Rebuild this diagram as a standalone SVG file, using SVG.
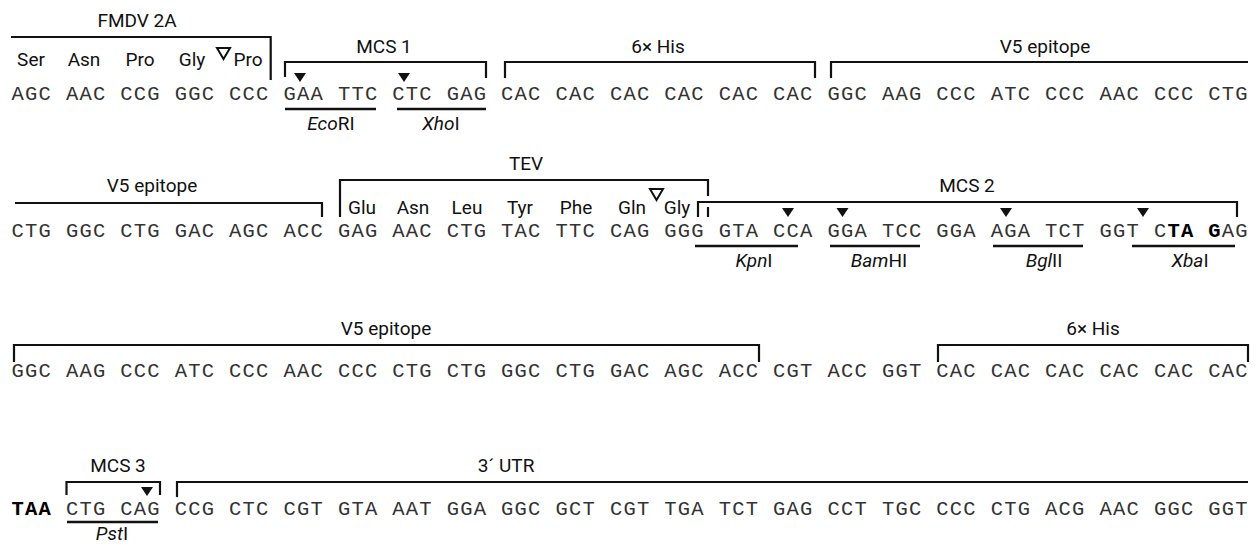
<svg xmlns="http://www.w3.org/2000/svg" width="1258" height="546" viewBox="0 0 1258 546">
  <style>
    .seq { font-family: "Liberation Mono", "DejaVu Sans Mono", monospace; font-size: 20.5px; letter-spacing: 1.2px; fill: #333; }
    .b { font-weight: bold; fill: #000; }
    .lab { font-family: Roboto, "Liberation Sans", sans-serif; font-size: 19px; fill: #111; text-anchor: middle; }
    .it { font-style: italic; }
    .br { fill: none; stroke: #111; stroke-width: 2.2; }
    .ul { fill: none; stroke: #111; stroke-width: 2.5; }
    .cut { fill: #111; }
    .cleave { fill: #fff; stroke: #111; stroke-width: 2; stroke-linejoin: miter; }
  </style>
  <defs>
    <path id="cutMark" class="cut" d="M-6,0 H6 L0,9 Z"/>
  </defs>
  <rect width="1258" height="546" fill="#fff"/>

  <!-- Row 1 -->
  <g id="fmdv2a">
    <path class="br" d="M11,37 H270.7 V80"/>
    <text class="lab" x="137" y="27">FMDV 2A</text>
    <text class="lab" x="31" y="66">Ser</text>
    <text class="lab" x="84" y="66">Asn</text>
    <text class="lab" x="140" y="66">Pro</text>
    <text class="lab" x="192" y="66">Gly</text>
    <text class="lab" x="248" y="66">Pro</text>
    <path class="cleave" d="M217,48 H230 L223.5,59 Z"/>
  </g>
  <g id="mcs1">
    <path class="br" d="M285,77 V62 H486 V78"/>
    <text class="lab" x="384" y="53">MCS 1</text>
  </g>
  <g id="his6-a">
    <path class="br" d="M505,78 V62 H815 V78"/>
    <text class="lab" x="658" y="53">6× His</text>
  </g>
  <g id="v5-a">
    <path class="br" d="M831,78 V62 H1248"/>
    <text class="lab" x="1045" y="53">V5 epitope</text>
  </g>
  <g id="ecori">
    <use href="#cutMark" x="300" y="73"/>
    <path class="ul" d="M285,109 H376"/>
    <text class="lab" x="331" y="130"><tspan class="it">Eco</tspan>RI</text>
  </g>
  <g id="xhoi">
    <use href="#cutMark" x="404" y="73"/>
    <path class="ul" d="M397,109 H486"/>
    <text class="lab" x="441" y="130"><tspan class="it">Xho</tspan>I</text>
  </g>
  <g id="seq-row1">
    <text class="seq" y="100"><tspan x="11.5">AGC</tspan><tspan x="65.9">AAC</tspan><tspan x="120.3">CCG</tspan><tspan x="174.7">GGC</tspan><tspan x="229.1">CCC</tspan><tspan x="283.5">GAA</tspan><tspan x="337.9">TTC</tspan><tspan x="392.3">CTC</tspan><tspan x="446.7">GAG</tspan><tspan x="501.1">CAC</tspan><tspan x="555.5">CAC</tspan><tspan x="609.9">CAC</tspan><tspan x="664.3">CAC</tspan><tspan x="718.7">CAC</tspan><tspan x="773.1">CAC</tspan><tspan x="827.5">GGC</tspan><tspan x="881.9">AAG</tspan><tspan x="936.3">CCC</tspan><tspan x="990.7">ATC</tspan><tspan x="1045.1">CCC</tspan><tspan x="1099.5">AAC</tspan><tspan x="1153.9">CCC</tspan><tspan x="1208.3">CTG</tspan></text>
  </g>

  <!-- Row 2 -->
  <g id="v5-b">
    <path class="br" d="M15,203 H322 V217"/>
    <text class="lab" x="152" y="192">V5 epitope</text>
  </g>
  <g id="tev">
    <path class="br" d="M340,217 V180 H708 V196 M708,207 V217"/>
    <text class="lab" x="526" y="170">TEV</text>
    <text class="lab" x="362" y="214">Glu</text>
    <text class="lab" x="413" y="214">Asn</text>
    <text class="lab" x="467" y="214">Leu</text>
    <text class="lab" x="520" y="214">Tyr</text>
    <text class="lab" x="576" y="214">Phe</text>
    <text class="lab" x="632" y="214">Gln</text>
    <text class="lab" x="677" y="214">Gly</text>
    <path class="cleave" d="M650,189 H663 L656.5,200 Z"/>
  </g>
  <g id="mcs2">
    <path class="br" d="M698,217 V202 H1237 V217"/>
    <text class="lab" x="967" y="192">MCS 2</text>
  </g>
  <g id="kpni">
    <use href="#cutMark" x="788" y="208"/>
    <path class="ul" d="M695,246 H798"/>
    <text class="lab" x="754" y="267"><tspan class="it">Kpn</tspan>I</text>
  </g>
  <g id="bamhi">
    <use href="#cutMark" x="842.5" y="208"/>
    <path class="ul" d="M830,246 H920"/>
    <text class="lab" x="879" y="267"><tspan class="it">Bam</tspan>HI</text>
  </g>
  <g id="bglii">
    <use href="#cutMark" x="1006" y="208"/>
    <path class="ul" d="M993,246 H1083"/>
    <text class="lab" x="1044" y="267"><tspan class="it">Bgl</tspan>II</text>
  </g>
  <g id="xbai">
    <use href="#cutMark" x="1143" y="208"/>
    <path class="ul" d="M1132,246 H1235"/>
    <text class="lab" x="1190" y="267"><tspan class="it">Xba</tspan>I</text>
  </g>
  <g id="seq-row2">
    <text class="seq" y="237"><tspan x="11.5">CTG</tspan><tspan x="65.9">GGC</tspan><tspan x="120.3">CTG</tspan><tspan x="174.7">GAC</tspan><tspan x="229.1">AGC</tspan><tspan x="283.5">ACC</tspan><tspan x="337.9">GAG</tspan><tspan x="392.3">AAC</tspan><tspan x="446.7">CTG</tspan><tspan x="501.1">TAC</tspan><tspan x="555.5">TTC</tspan><tspan x="609.9">CAG</tspan><tspan x="664.3">GGG</tspan><tspan x="718.7">GTA</tspan><tspan x="773.1">CCA</tspan><tspan x="827.5">GGA</tspan><tspan x="881.9">TCC</tspan><tspan x="936.3">GGA</tspan><tspan x="990.7">AGA</tspan><tspan x="1045.1">TCT</tspan><tspan x="1099.5">GGT</tspan><tspan x="1153.9">C<tspan class="b">TA</tspan></tspan><tspan x="1208.3"><tspan class="b">G</tspan>AG</tspan></text>
  </g>

  <!-- Row 3 -->
  <g id="v5-c">
    <path class="br" d="M14,362 V345 H759 V362"/>
    <text class="lab" x="386" y="335">V5 epitope</text>
  </g>
  <g id="his6-b">
    <path class="br" d="M938,362 V345 H1248 V362"/>
    <text class="lab" x="1093" y="335">6× His</text>
  </g>
  <g id="seq-row3">
    <text class="seq" y="377"><tspan x="11.5">GGC</tspan><tspan x="65.9">AAG</tspan><tspan x="120.3">CCC</tspan><tspan x="174.7">ATC</tspan><tspan x="229.1">CCC</tspan><tspan x="283.5">AAC</tspan><tspan x="337.9">CCC</tspan><tspan x="392.3">CTG</tspan><tspan x="446.7">CTG</tspan><tspan x="501.1">GGC</tspan><tspan x="555.5">CTG</tspan><tspan x="609.9">GAC</tspan><tspan x="664.3">AGC</tspan><tspan x="718.7">ACC</tspan><tspan x="773.1">CGT</tspan><tspan x="827.5">ACC</tspan><tspan x="881.9">GGT</tspan><tspan x="936.3">CAC</tspan><tspan x="990.7">CAC</tspan><tspan x="1045.1">CAC</tspan><tspan x="1099.5">CAC</tspan><tspan x="1153.9">CAC</tspan><tspan x="1208.3">CAC</tspan></text>
  </g>

  <!-- Row 4 -->
  <g id="mcs3">
    <path class="br" d="M66.5,495 V482 H160 V495"/>
    <text class="lab" x="118" y="472">MCS 3</text>
  </g>
  <g id="utr3">
    <path class="br" d="M177,497 V482 H1248"/>
    <text class="lab" x="506" y="472">3´ UTR</text>
  </g>
  <g id="psti">
    <use href="#cutMark" x="147" y="487"/>
    <path class="ul" d="M67,522 H158"/>
    <text class="lab" x="112" y="540"><tspan class="it">Pst</tspan>I</text>
  </g>
  <g id="seq-row4">
    <text class="seq" y="515"><tspan x="11.5" class="b">TAA</tspan><tspan x="65.9">CTG</tspan><tspan x="120.3">CAG</tspan><tspan x="174.7">CCG</tspan><tspan x="229.1">CTC</tspan><tspan x="283.5">CGT</tspan><tspan x="337.9">GTA</tspan><tspan x="392.3">AAT</tspan><tspan x="446.7">GGA</tspan><tspan x="501.1">GGC</tspan><tspan x="555.5">GCT</tspan><tspan x="609.9">CGT</tspan><tspan x="664.3">TGA</tspan><tspan x="718.7">TCT</tspan><tspan x="773.1">GAG</tspan><tspan x="827.5">CCT</tspan><tspan x="881.9">TGC</tspan><tspan x="936.3">CCC</tspan><tspan x="990.7">CTG</tspan><tspan x="1045.1">ACG</tspan><tspan x="1099.5">AAC</tspan><tspan x="1153.9">GGC</tspan><tspan x="1208.3">GGT</tspan></text>
  </g>
</svg>
